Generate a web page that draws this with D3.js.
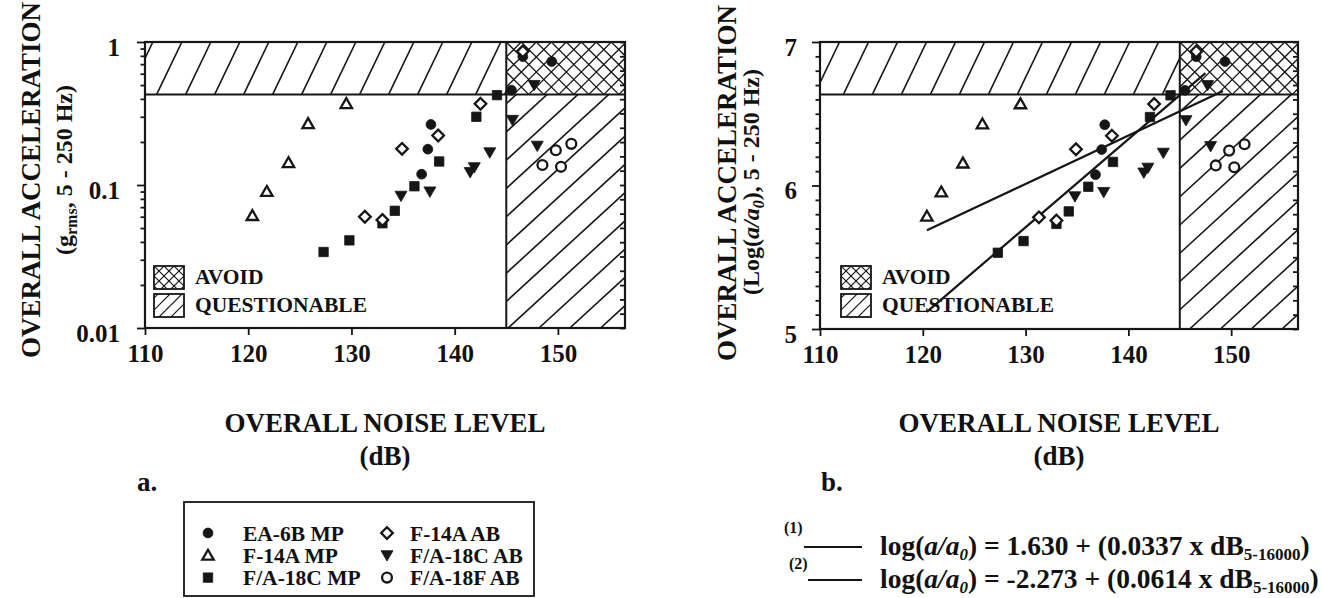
<!DOCTYPE html>
<html><head><meta charset="utf-8">
<script src="https://cdn.jsdelivr.net/npm/d3@7"></script>
<style>
html,body{margin:0;padding:0;background:#fff;}
svg text{font-family:"Liberation Serif","Times New Roman",serif;font-weight:bold;fill:#111;}
</style></head><body>
<svg id="c" width="1321" height="598"></svg>
<script>
// ---------------- data ----------------
const xTickValues = [110, 120, 130, 140, 150];
const yTickValuesA = [0.01, 0.1, 1];
const yTickLabelsA = ["0.01", "0.1", "1"];
const yTickValuesB = [5, 6, 7];
const yTickLabelsB = ["5", "6", "7"];
const noiseLimit = 145;      // dB  (vertical zone boundary)
const accelLimit = 0.43;     // g rms (horizontal zone boundary)

const seriesNames = ["EA-6B MP", "F-14A MP", "F/A-18C MP", "F-14A AB", "F/A-18C AB", "F/A-18F AB"];
// [dB, g rms]
const ea6bMP   = [[137.7,0.265],[137.4,0.178],[136.8,0.119],[145.5,0.46],[149.4,0.73],[146.6,0.79]];
const f14aMP   = [[120.4,0.061],[121.8,0.090],[123.9,0.143],[125.8,0.268],[129.5,0.37]];
const fa18cMP  = [[127.3,0.034],[129.8,0.041],[133.0,0.054],[134.2,0.066],[136.1,0.098],[138.5,0.146],[142.1,0.30],[144.1,0.425]];
const f14aAB   = [[131.3,0.060],[133.0,0.057],[134.9,0.179],[138.4,0.222],[142.5,0.37],[146.6,0.86]];
const fa18cAB  = [[134.8,0.084],[137.6,0.090],[141.5,0.123],[141.9,0.133],[143.4,0.169],[145.6,0.285],[147.7,0.50],[148.0,0.188]];
const fa18fAB  = [[148.5,0.138],[149.8,0.175],[150.3,0.134],[151.3,0.194]];

// regression lines of panel b:  log(a/a0) = b0 + b1 * dB
const fitNames = ["(1)", "(2)"];
const fitIntercepts = ["1.630", "-2.273"];
const fitSlopes = ["0.0337", "0.0614"];
const fitRanges = [[120.4, 149.2], [120.4, 147.5]];

// ---------------- setup ----------------
const svg = d3.select("#c");
const INK = "#161616";
svg.append("rect").attr("width",1321).attr("height",598).attr("fill","#fff");

const allSeries = [
  {name:seriesNames[0], data:ea6bMP,  shape:"circle",  fill:true},
  {name:seriesNames[1], data:f14aMP,  shape:"triUp",   fill:false},
  {name:seriesNames[2], data:fa18cMP, shape:"square",  fill:true},
  {name:seriesNames[3], data:f14aAB,  shape:"diamond", fill:false},
  {name:seriesNames[4], data:fa18cAB, shape:"triDown", fill:true},
  {name:seriesNames[5], data:fa18fAB, shape:"circle",  fill:false}
];
function shapePath(shape){
  switch(shape){
    case "circle": return d3.symbol(d3.symbolCircle, 76)();
    case "square": return "M-4.7,-4.7H4.7V4.7H-4.7Z";
    case "triUp": return "M0,-5.6L5.7,4.3L-5.7,4.3Z";
    case "triDown": return "M-6,-4.6L6,-4.6L0,5.8Z";
    case "diamond": return "M0,-5.8L5.8,0L0,5.8L-5.8,0Z";
  }
}

function hatch(g, id, x0, y0, w, h, s, spacing, px, py, sw){
  const cid = "clip-"+id;
  svg.append("clipPath").attr("id",cid).append("rect").attr("x",x0).attr("y",y0).attr("width",w).attr("height",h);
  const gg = g.append("g").attr("clip-path","url(#"+cid+")");
  const yb = y0+h, yt = y0;
  const xb0 = px - s*(yb-py);
  const lo = x0 - Math.abs(s)*h - spacing, hi = x0 + w + Math.abs(s)*h + spacing;
  const kmin = Math.floor((lo-xb0)/spacing), kmax = Math.ceil((hi-xb0)/spacing);
  for(let k=kmin;k<=kmax;k++){
    const xb = xb0 + k*spacing;
    gg.append("line").attr("x1",xb).attr("y1",yb).attr("x2",xb + s*h).attr("y2",yt)
      .attr("stroke",INK).attr("stroke-width",sw);
  }
}

function panel(opts){
  const g = svg.append("g");
  const x = opts.x, y = opts.y;
  const X0 = x.range()[0], X1 = x.range()[1];
  const Yb = y.range()[0], Yt = y.range()[1];
  const xb = x(noiseLimit), yh = y(opts.limitY);

  hatch(g, opts.id+"top", X0, Yt, xb-X0, yh-Yt, 0.48, 29, opts.topPhase, yh, 1.6);
  hatch(g, opts.id+"q", xb, yh, X1-xb, Yb-yh, 1.09, 30.8, xb, opts.qPhase, 1.6);
  hatch(g, opts.id+"a1", xb, Yt, X1-xb, yh-Yt, 1.0, 15, xb, Yt, 1.3);
  hatch(g, opts.id+"a2", xb, Yt, X1-xb, yh-Yt, -1.0, 15, xb, Yt, 1.3);

  g.append("line").attr("x1",X0).attr("x2",X1).attr("y1",yh).attr("y2",yh).attr("stroke",INK).attr("stroke-width",2);
  g.append("line").attr("x1",xb).attr("x2",xb).attr("y1",Yt).attr("y2",Yb).attr("stroke",INK).attr("stroke-width",2);

  const xa = g.append("g").attr("transform","translate(0,"+Yb+")")
    .call(d3.axisBottom(x).tickValues(xTickValues).tickSize(7).tickPadding(9).tickFormat(d3.format("d")));
  xa.selectAll("text").style("font-size","25px");
  const ya = g.append("g").attr("transform","translate("+X0+",0)")
    .call(d3.axisLeft(y).tickValues(opts.yTicks).tickSize(8).tickPadding(opts.yPad).tickFormat((d,i)=>opts.yLabels[i]));
  ya.selectAll("text").style("font-size","25px").attr("dy","0.52em");
  const ym = g.append("g").attr("transform","translate("+X0+",0)")
    .call(d3.axisLeft(y).tickValues(opts.yMinor).tickSize(4.5).tickFormat(""));
  const yr = g.append("g").attr("transform","translate("+X1+",0)")
    .call(d3.axisLeft(y).tickValues(opts.rightTicks).tickSize(5).tickFormat(""));
  [xa,ya,ym,yr].forEach(a=>{a.select(".domain").remove(); a.selectAll("line").attr("stroke",INK).attr("stroke-width",1.8);});

  g.append("rect").attr("x",X0).attr("y",Yt).attr("width",X1-X0).attr("height",Yb-Yt)
    .attr("fill","none").attr("stroke",INK).attr("stroke-width",2.2);

  const lx = opts.legX;
  const sw1 = g.append("g");
  sw1.append("rect").attr("x",lx).attr("y",266).attr("width",30).attr("height",23).attr("fill","#fff");
  hatch(sw1, opts.id+"l1", lx, 266, 30, 23, 1.0, 10, lx, 266, 1.1);
  hatch(sw1, opts.id+"l2", lx, 266, 30, 23, -1.0, 10, lx, 266, 1.1);
  sw1.append("rect").attr("x",lx).attr("y",266).attr("width",30).attr("height",23).attr("fill","none").attr("stroke",INK).attr("stroke-width",1.8);
  const sw2 = g.append("g");
  sw2.append("rect").attr("x",lx).attr("y",294).attr("width",30).attr("height",23).attr("fill","#fff");
  hatch(sw2, opts.id+"l3", lx, 294, 30, 23, 1.0, 12, lx+4, 294, 1.1);
  sw2.append("rect").attr("x",lx).attr("y",294).attr("width",30).attr("height",23).attr("fill","none").attr("stroke",INK).attr("stroke-width",1.8);
  g.append("text").attr("x",lx+41).attr("y",284).style("font-size","21.5px").text("AVOID");
  g.append("text").attr("x",lx+41).attr("y",312).style("font-size","21.5px").text("QUESTIONABLE");

  if(opts.fits){
    fitIntercepts.forEach((b0,i)=>{
      const r = fitRanges[i];
      const line = d3.line().x(d=>x(d)).y(d=>y(+b0 + (+fitSlopes[i])*d));
      g.append("path").attr("d",line(r)).attr("fill","none").attr("stroke",INK).attr("stroke-width",2.2);
    });
  }

  allSeries.forEach(s=>{
    g.append("g").selectAll("path").data(s.data).join("path")
      .attr("transform",d=>"translate("+x(d[0])+","+y(opts.val(d[1]))+")")
      .attr("d",shapePath(s.shape))
      .attr("fill",s.fill?INK:"#fff").attr("stroke",INK).attr("stroke-width",s.fill?0.8:2.3);
  });

  const cx = (X0+X1)/2;
  g.append("text").attr("x",cx).attr("y",432).attr("text-anchor","middle").style("font-size","27px").text("OVERALL NOISE LEVEL");
  g.append("text").attr("x",cx).attr("y",465).attr("text-anchor","middle").style("font-size","27px").text("(dB)");
  return g;
}

const xA = d3.scaleLinear().domain([110,156.5]).range([145,625]);
const yA = d3.scaleLog().domain([0.01,1]).range([328,42]);
panel({id:"a", x:xA, y:yA, limitY:accelLimit, yTicks:yTickValuesA, yLabels:yTickLabelsA, yPad:17,
  yMinor:[2,3,4,5,6,7,8,9].flatMap(m=>[m*0.01,m*0.1]),
  rightTicks:d3.range(-20,1).map(k=>Math.pow(10,k/10)),
  topPhase:156.7, qPhase:216.7, legX:154, val:v=>v, fits:false});

const xB = d3.scaleLinear().domain([110,156.5]).range([820,1298]);
const yB = d3.scaleLinear().domain([5,7]).range([329,42]);
panel({id:"b", x:xB, y:yB, limitY:Math.log10(accelLimit)+7, yTicks:yTickValuesB, yLabels:yTickLabelsB, yPad:15,
  yMinor:d3.range(1,20).filter(k=>k!==10).map(k=>5+k/10),
  rightTicks:d3.range(0,21).map(k=>5+k/10),
  topPhase:843.3, qPhase:225, legX:841, val:v=>Math.log10(v)+7, fits:true});

function yTitle(xb, yc, size){ return svg.append("text").attr("transform","translate("+xb+","+yc+") rotate(-90)").attr("text-anchor","middle").style("font-size",size+"px"); }
yTitle(40,180,27).text("OVERALL ACCELERATION");
const t2 = yTitle(72,170,24);
t2.append("tspan").text("(g");
t2.append("tspan").attr("dy",5).style("font-size","16px").text("rms");
t2.append("tspan").attr("dy",-5).text(", 5 - 250 Hz)");
yTitle(736,183,27).text("OVERALL ACCELERATION");
const t3 = yTitle(759,182,24);
t3.append("tspan").text("(Log(");
t3.append("tspan").style("font-style","italic").text("a/a");
t3.append("tspan").attr("dy",5).style("font-size","16px").style("font-style","italic").text("0");
t3.append("tspan").attr("dy",-5).text("), 5 - 250 Hz)");

svg.append("text").attr("x",137).attr("y",491).style("font-size","27px").text("a.");
svg.append("text").attr("x",821).attr("y",491).style("font-size","27px").text("b.");

const lg = svg.append("g");
lg.append("rect").attr("x",184).attr("y",502).attr("width",350).attr("height",94).attr("fill","none").attr("stroke",INK).attr("stroke-width",1.8);
allSeries.forEach((s,i)=>{
  const col = Math.floor(i/3), row = i%3;
  const sx = col===0?208:387, tx = col===0?243:410, yy = 533 + row*22.3;
  lg.append("path").attr("transform","translate("+sx+","+yy+")").attr("d",shapePath(s.shape))
    .attr("fill",s.fill?INK:"#fff").attr("stroke",INK).attr("stroke-width",s.fill?0.8:2.3);
  lg.append("text").attr("x",tx).attr("y",yy+7.5).style("font-size","21.5px").text(s.name);
});

const eqY = [555, 588];
fitIntercepts.forEach((b0,i)=>{
  svg.append("text").attr("x",i===0?784:789).attr("y",eqY[i]-(i===0?22:19)).style("font-size","16px").text(fitNames[i]);
  svg.append("line").attr("x1",i===0?804:808).attr("x2",862).attr("y1",eqY[i]-8).attr("y2",eqY[i]-8).attr("stroke",INK).attr("stroke-width",2);
  const t = svg.append("text").attr("x",880).attr("y",eqY[i]).style("font-size","27.5px");
  t.append("tspan").text("log(");
  t.append("tspan").style("font-style","italic").text("a/a");
  t.append("tspan").attr("dy",5).style("font-size","17px").style("font-style","italic").text("0");
  t.append("tspan").attr("dy",-5).text(") = " + b0 + " + (" + fitSlopes[i] + " x dB");
  t.append("tspan").attr("dy",5).style("font-size","17px").text("5-16000");
  t.append("tspan").attr("dy",-5).text(")");
});
</script>
</body></html>
